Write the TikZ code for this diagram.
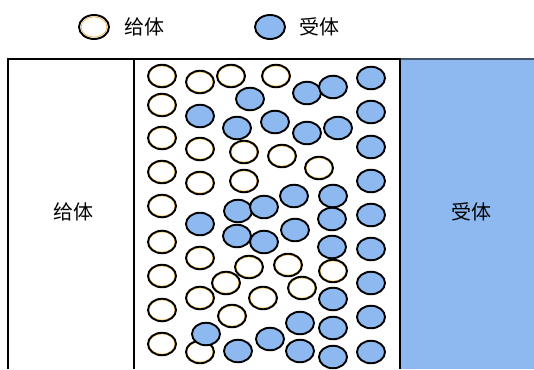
\documentclass[tikz,border=0pt]{standalone}
\usepackage{fontspec}
\newfontfamily\cjk{Noto Sans CJK SC}
\usetikzlibrary{shapes.geometric}
\definecolor{accblue}{RGB}{141,185,240}
\definecolor{donorring}{RGB}{240,185,70}
\begin{document}
\begin{tikzpicture}[x=1pt,y=-1pt,
  mol/.style={ellipse, draw=black, line width=1.9pt, minimum width=28pt, minimum height=22.5pt, inner sep=0pt},
  don/.style={mol, fill=white, path picture={\draw[donorring, line width=0.7pt] (path picture bounding box.center) ellipse [x radius=12.9pt, y radius=10.1pt];}},
  acc/.style={mol, fill=accblue},
  lbl/.style={font=\cjk\fontsize{20pt}{24pt}\selectfont, inner sep=0pt},
  frame/.style={line width=1.4pt}]
\useasboundingbox (0,0) rectangle (534,369);
% right acceptor region
\fill[accblue] (400,59) rectangle (534,369);
\draw[frame, draw=black!55!accblue] (400,59) -- (534,59);
% frame
\draw[frame] (8,369) -- (8,59) -- (400,59) -- (400,369);
\draw[frame] (134,59) -- (134,369);
% labels
\node[lbl] (ltext) at (73,212) {给体};
\node[lbl] (rtext) at (471,212) {受体};
% legend
\node[don, minimum width=30pt, minimum height=24pt] (legd) at (94,27) {};
\node[lbl, anchor=center] (legdt) at (144,27) {给体};
\node[acc, minimum width=30pt, minimum height=24pt] (lega) at (270,27) {};
\node[lbl, anchor=center] (legat) at (319,27) {受体};
% donors
\foreach \x/\y [count=\i] in {162/76, 162/105, 162/138, 162/172, 162/206, 162/242, 162/276, 162/310, 162/344,
  200/82, 231/76, 276/76,
  200/149, 244/152, 282/156, 319/168,
  200/183, 244/181,
  200/258, 249/267, 288/265, 333/271,
  226/283, 302/288, 200/298, 263/298,
  232/316, 200/352}
  \node[don] (d\i) at (\x,\y) {};
% acceptors
\foreach \x/\y [count=\i] in {250/99, 307/93, 333/87, 371/78,
  200/116, 237/128, 275/122, 307/133, 338/128, 371/112,
  371/147, 294/196, 333/196, 371/181,
  200/224, 238/211, 264/207, 295/230, 332/219, 371/215,
  237/236, 264/242, 332/247, 371/249,
  371/283, 333/299, 300/323, 333/328, 371/317,
  206/334, 238/351, 270/339, 300/351, 333/357, 371/352}
  \node[acc] (a\i) at (\x,\y) {};
\end{tikzpicture}
\end{document}
